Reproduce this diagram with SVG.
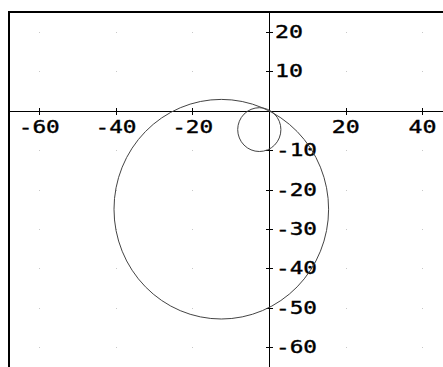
<svg xmlns="http://www.w3.org/2000/svg" width="443" height="367" viewBox="0 0 443 367">
<style>
.lbl{font-family:"DejaVu Sans Mono","Liberation Mono",monospace;font-size:18.5px;fill:#000;stroke:#000;stroke-width:0.4px}
.xl{text-anchor:middle}
.ax{stroke:#000;stroke-width:1;fill:none}
.fr{stroke:#000;stroke-width:2;fill:none}
.tk{stroke:#000;stroke-width:1}
.dot{fill:#c8c8c8}
.crv{stroke:#444;stroke-width:1;fill:none}
</style>
<rect width="443" height="367" fill="#fff"/>
<g id="grid">
<rect class="dot" x="39" y="32" width="1" height="1"/><rect class="dot" x="116" y="32" width="1" height="1"/><rect class="dot" x="192" y="32" width="1" height="1"/><rect class="dot" x="346" y="32" width="1" height="1"/><rect class="dot" x="422" y="32" width="1" height="1"/>
<rect class="dot" x="39" y="71" width="1" height="1"/><rect class="dot" x="116" y="71" width="1" height="1"/><rect class="dot" x="192" y="71" width="1" height="1"/><rect class="dot" x="346" y="71" width="1" height="1"/><rect class="dot" x="422" y="71" width="1" height="1"/>
<rect class="dot" x="39" y="150" width="1" height="1"/><rect class="dot" x="116" y="150" width="1" height="1"/><rect class="dot" x="192" y="150" width="1" height="1"/><rect class="dot" x="346" y="150" width="1" height="1"/><rect class="dot" x="422" y="150" width="1" height="1"/>
<rect class="dot" x="39" y="190" width="1" height="1"/><rect class="dot" x="116" y="190" width="1" height="1"/><rect class="dot" x="192" y="190" width="1" height="1"/><rect class="dot" x="346" y="190" width="1" height="1"/><rect class="dot" x="422" y="190" width="1" height="1"/>
<rect class="dot" x="39" y="229" width="1" height="1"/><rect class="dot" x="116" y="229" width="1" height="1"/><rect class="dot" x="192" y="229" width="1" height="1"/><rect class="dot" x="346" y="229" width="1" height="1"/><rect class="dot" x="422" y="229" width="1" height="1"/>
<rect class="dot" x="39" y="268" width="1" height="1"/><rect class="dot" x="116" y="268" width="1" height="1"/><rect class="dot" x="192" y="268" width="1" height="1"/><rect class="dot" x="346" y="268" width="1" height="1"/><rect class="dot" x="422" y="268" width="1" height="1"/>
<rect class="dot" x="39" y="308" width="1" height="1"/><rect class="dot" x="116" y="308" width="1" height="1"/><rect class="dot" x="192" y="308" width="1" height="1"/><rect class="dot" x="346" y="308" width="1" height="1"/><rect class="dot" x="422" y="308" width="1" height="1"/>
<rect class="dot" x="39" y="347" width="1" height="1"/><rect class="dot" x="116" y="347" width="1" height="1"/><rect class="dot" x="192" y="347" width="1" height="1"/><rect class="dot" x="346" y="347" width="1" height="1"/><rect class="dot" x="422" y="347" width="1" height="1"/>
</g>
<g id="frame">
<path class="fr" d="M9,367 V12 H443"/>
</g>
<g id="axes">
<path class="ax" d="M9,111.5 H443"/>
<path class="ax" d="M269.5,12 V367"/>
<path class="tk" d="M39.5,108 v7 M116.5,108 v7 M192.5,108 v7 M346.5,108 v7 M422.5,108 v7"/>
<path class="tk" d="M266,32.5 h7 M266,71.5 h7 M266,150.5 h7 M266,190.5 h7 M266,229.5 h7 M266,268.5 h7 M266,308.5 h7 M266,347.5 h7"/>
</g>
<g id="xlabels">
<text class="lbl xl" x="39.3" y="133" textLength="41" lengthAdjust="spacingAndGlyphs">-60</text>
<text class="lbl xl" x="116" y="133" textLength="41" lengthAdjust="spacingAndGlyphs">-40</text>
<text class="lbl xl" x="192.7" y="133" textLength="41" lengthAdjust="spacingAndGlyphs">-20</text>
<text class="lbl xl" x="345.7" y="133" textLength="28" lengthAdjust="spacingAndGlyphs">20</text>
<text class="lbl xl" x="422.5" y="133" textLength="28" lengthAdjust="spacingAndGlyphs">40</text>
</g>
<g id="ylabels">
<text class="lbl" x="275" y="37.5" textLength="28" lengthAdjust="spacingAndGlyphs">20</text>
<text class="lbl" x="275" y="77" textLength="28" lengthAdjust="spacingAndGlyphs">10</text>
<text class="lbl" x="276" y="156" textLength="41" lengthAdjust="spacingAndGlyphs">-10</text>
<text class="lbl" x="276" y="195.5" textLength="41" lengthAdjust="spacingAndGlyphs">-20</text>
<text class="lbl" x="276" y="235" textLength="41" lengthAdjust="spacingAndGlyphs">-30</text>
<text class="lbl" x="276" y="274" textLength="41" lengthAdjust="spacingAndGlyphs">-40</text>
<text class="lbl" x="276" y="313.5" textLength="41" lengthAdjust="spacingAndGlyphs">-50</text>
<text class="lbl" x="276" y="353" textLength="41" lengthAdjust="spacingAndGlyphs">-60</text>
</g>
<g id="curves">
<ellipse class="crv" cx="221.3" cy="209.2" rx="107.3" ry="109.8"/>
<ellipse class="crv" cx="259.3" cy="129.6" rx="21.6" ry="21.9"/>
</g>
</svg>
